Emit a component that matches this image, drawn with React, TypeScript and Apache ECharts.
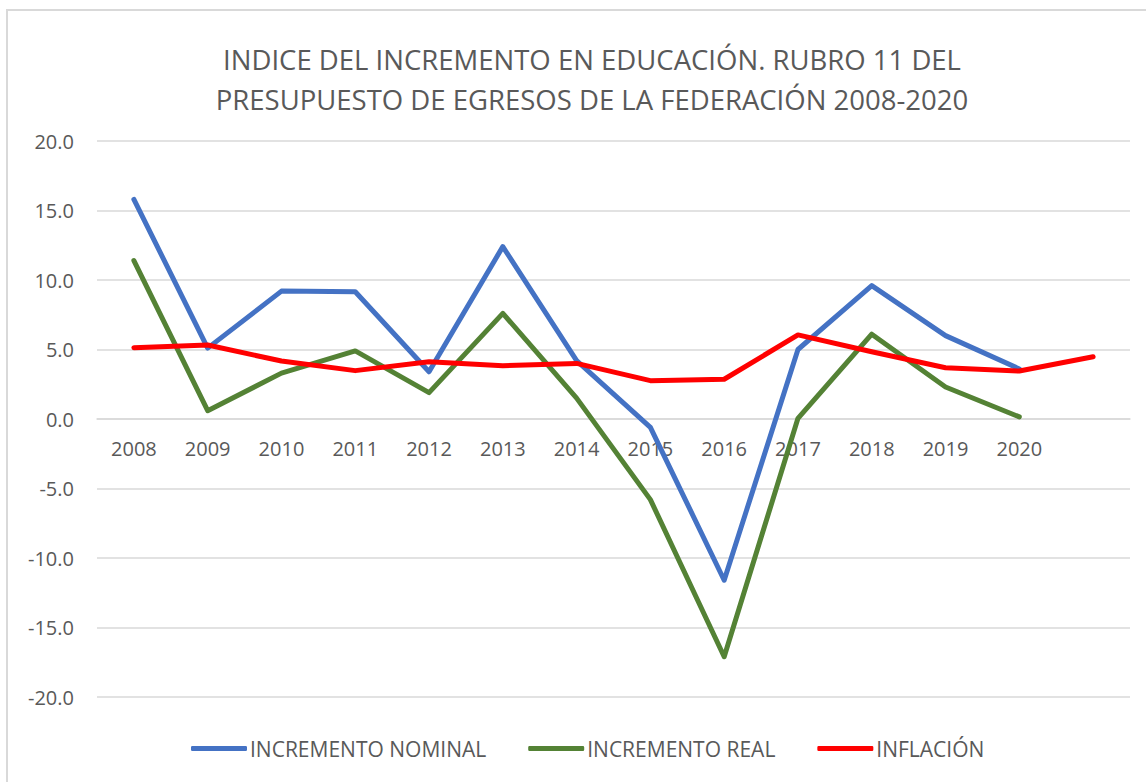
import React, { useEffect, useRef } from "react";
import * as echarts from "echarts";

const years = ["2008", "2009", "2010", "2011", "2012", "2013", "2014", "2015", "2016", "2017", "2018", "2019", "2020", ""];
const nominal = [15.8, 5.1, 9.2, 9.15, 3.4, 12.4, 4.2, -0.6, -11.6, 5.0, 9.6, 6.0, 3.6, null];
const real = [11.4, 0.6, 3.3, 4.9, 1.9, 7.6, 1.5, -5.8, -17.1, 0.05, 6.1, 2.3, 0.15, null];
const inflation = [5.13, 5.32, 4.17, 3.48, 4.12, 3.83, 4.0, 2.76, 2.86, 6.05, 4.84, 3.69, 3.45, 4.48];
const seriesNames = ["INCREMENTO NOMINAL", "INCREMENTO REAL", "INFLACIÓN"];
const yTicks = { min: -20, max: 20, interval: 5 };
const titleLines = ["INDICE DEL INCREMENTO EN EDUCACIÓN. RUBRO 11 DEL", "PRESUPUESTO DE EGRESOS DE LA FEDERACIÓN 2008-2020"];

const FONT = "'Open Sans', 'Noto Sans', sans-serif";
const TXT = "#595959";
const colors = ["#4472C4", "#548235", "#FF0000"];

export default function App() {
  const ref = useRef<HTMLDivElement>(null);
  useEffect(() => {
    document.body.style.margin = "0";
    const chart = echarts.init(ref.current!, null, { renderer: "svg" });
    const datasets = [nominal, real, inflation];
    chart.setOption({
      animation: false,
      backgroundColor: "#fff",
      color: colors,
      textStyle: { fontFamily: FONT, color: TXT },
      graphic: titleLines.map((t, i) => ({
        type: "text",
        x: 592,
        y: 59 + i * 40,
        style: {
          text: t,
          fill: TXT,
          font: `27.5px ${FONT}`,
          textAlign: "center",
          textVerticalAlign: "middle",
        },
      })),
      legend: {
        left: 186,
        top: 733,
        icon: "roundRect",
        itemWidth: 56,
        itemHeight: 5,
        itemGap: 42,
        data: seriesNames,
        textStyle: { fontFamily: FONT, fontSize: 21, color: TXT, padding: [0, 0, 0, -2] },
      },
      grid: { left: 97, right: 16, top: 141, bottom: 85, containLabel: false },
      xAxis: {
        type: "category",
        data: years,
        boundaryGap: true,
        offset: -278,
        axisLine: { show: true, onZero: false, lineStyle: { color: "#D9D9D9", width: 1.5 } },
        axisTick: { show: false },
        axisLabel: { fontFamily: FONT, fontSize: 20, color: TXT, margin: 19, interval: 0 },
      },
      yAxis: {
        type: "value",
        min: yTicks.min,
        max: yTicks.max,
        interval: yTicks.interval,
        axisLine: { show: false },
        axisTick: { show: false },
        splitLine: { lineStyle: { color: "#D9D9D9", width: 1.5 } },
        axisLabel: {
          fontFamily: FONT,
          fontSize: 20,
          color: TXT,
          margin: 23,
          formatter: (v: number) => v.toFixed(1),
        },
      },
      series: datasets.map((d, i) => ({
        name: seriesNames[i],
        type: "line",
        data: d,
        symbol: "none",
        connectNulls: false,
        lineStyle: { width: 5, color: colors[i], cap: "round", join: "round" },
        itemStyle: { color: colors[i] },
        z: 2 + i,
      })),
    });
    return () => chart.dispose();
  }, []);
  return (
    <div style={{ position: "fixed", left: 0, top: 0, width: 1146, height: 782, overflow: "hidden", background: "#fff" }}>
      <div ref={ref} style={{ position: "absolute", left: 0, top: 0, width: 1146, height: 782 }} />
      <div
        style={{
          position: "absolute",
          left: 6,
          top: 9,
          width: 1200,
          height: 800,
          border: "2px solid #D9D9D9",
          pointerEvents: "none",
        }}
      />
    </div>
  );
}
